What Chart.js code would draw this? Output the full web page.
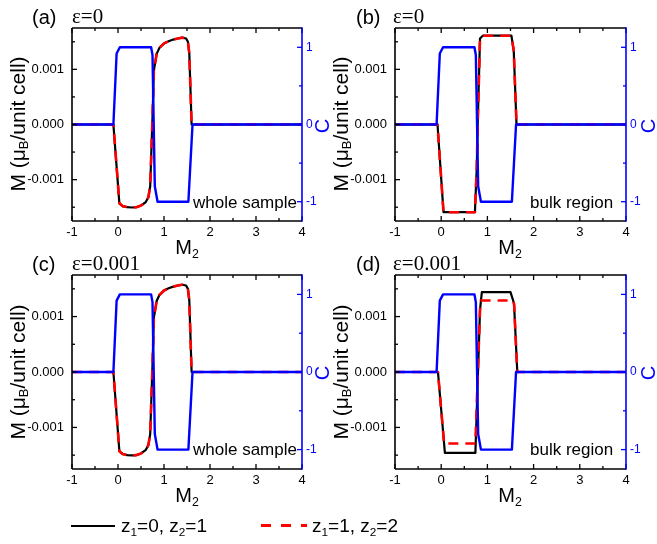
<!DOCTYPE html>
<html>
<head>
<meta charset="utf-8">
<script src="https://cdn.jsdelivr.net/npm/chart.js@4.4.1/dist/chart.umd.min.js"></script>
<style>
  body { margin: 0; background: #fff; }
  #fig { position: relative; width: 657px; height: 544px; overflow: hidden; background: #fff;
         font-family: "Liberation Sans", Arial, sans-serif; color: #000; }
  #fig canvas { position: absolute; }
  .lbl { position: absolute; white-space: nowrap; line-height: 1; }
  .tag { font-size: 20px; }
  .eps { font-family: "Liberation Serif", "Times New Roman", serif; font-size: 21px; }
  .ytitle { font-size: 21px; transform: translate(-50%, -50%) rotate(-90deg); }
  .ctitle { font-size: 20px; color: #0000ff; transform: translate(-50%, -50%) rotate(-90deg); }
  .xtitle { font-size: 20px; transform: translateX(-50%); }
  .note { font-size: 17px; }
  .leg { font-size: 19px; }
  sub { font-size: 0.62em; vertical-align: -0.3em; line-height: 0; }
  .legline { position: absolute; height: 2px; background: #000; }
  .legdash { position: absolute; height: 3px;
             background: repeating-linear-gradient(to right, #ff0000 0 10px, transparent 10px 20px); }
</style>
</head>
<body>
<div id="fig">
  <canvas id="pa"></canvas>
  <canvas id="pb"></canvas>
  <canvas id="pc"></canvas>
  <canvas id="pd"></canvas>

  <div class="lbl tag" style="left:32px;top:7px">(a)</div>
  <div class="lbl eps" style="left:72px;top:6px">ε=0</div>
  <div class="lbl tag" style="left:356px;top:7px">(b)</div>
  <div class="lbl eps" style="left:393px;top:6px">ε=0</div>
  <div class="lbl tag" style="left:32px;top:254px">(c)</div>
  <div class="lbl eps" style="left:72px;top:253px">ε=0.001</div>
  <div class="lbl tag" style="left:356px;top:254px">(d)</div>
  <div class="lbl eps" style="left:393px;top:253px">ε=0.001</div>

  <div class="lbl ytitle" style="left:17px;top:124px">M (μ<sub>B</sub>/unit cell)</div>
  <div class="lbl ytitle" style="left:340px;top:124px">M (μ<sub>B</sub>/unit cell)</div>
  <div class="lbl ytitle" style="left:17px;top:372px">M (μ<sub>B</sub>/unit cell)</div>
  <div class="lbl ytitle" style="left:340px;top:372px">M (μ<sub>B</sub>/unit cell)</div>

  <div class="lbl ctitle" style="left:322px;top:126px">C</div>
  <div class="lbl ctitle" style="left:648px;top:126px">C</div>
  <div class="lbl ctitle" style="left:322px;top:373px">C</div>
  <div class="lbl ctitle" style="left:648px;top:373px">C</div>

  <div class="lbl xtitle" style="left:187px;top:237px">M<sub>2</sub></div>
  <div class="lbl xtitle" style="left:510px;top:237px">M<sub>2</sub></div>
  <div class="lbl xtitle" style="left:187px;top:485px">M<sub>2</sub></div>
  <div class="lbl xtitle" style="left:510px;top:485px">M<sub>2</sub></div>

  <div class="lbl note" style="left:193px;top:194px">whole sample</div>
  <div class="lbl note" style="left:530px;top:194px">bulk region</div>
  <div class="lbl note" style="left:193px;top:441px">whole sample</div>
  <div class="lbl note" style="left:530px;top:441px">bulk region</div>

  <div class="legline" style="left:71px;top:525px;width:44px"></div>
  <div class="lbl leg" style="left:121px;top:516px">z<sub>1</sub>=0, z<sub>2</sub>=1</div>
  <div class="legdash" style="left:261px;top:524px;width:46px"></div>
  <div class="lbl leg" style="left:312px;top:516px">z<sub>1</sub>=1, z<sub>2</sub>=2</div>
</div>

<script>
// ---- axis ticks ----
const m2Ticks = [-1, 0, 1, 2, 3, 4];
const m2Minor = [-0.5, 0.5, 1.5, 2.5, 3.5];
const mTicks = [-0.001, 0, 0.001];
const mMinor = [-0.0015, -0.0005, 0.0005, 0.0015];
const cTicks = [-1, 0, 1];
const cMinor = [-0.5, 0.5];
const m2Range = [-1, 4];
const mRange = [-0.00175, 0.00175];
const cRange = [-1.25, 1.25];

// ---- Chern number C vs M2 (same for all panels) ----
const chernX = [-1, -0.1, -0.03, 0.04, 0.72, 0.75, 0.8, 0.86, 1.53, 1.62, 4];
const chernY = [0, 0, 0.92, 1, 1, 0.9, -0.8, -1, -1, 0, 0];

// ---- magnetization, whole sample (eps = 0 and eps = 0.001 look alike) ----
const wholeX = [-1, -0.1, 0.03, 0.1, 0.2, 0.3, 0.4, 0.5, 0.6, 0.66, 0.7, 0.745, 0.78, 0.84,
                0.9, 1.0, 1.1, 1.2, 1.3, 1.4, 1.48, 1.52, 1.55, 1.6, 4];
const wholeY = [0, 0, -0.00143, -0.00148, -0.0015, -0.001505, -0.0015, -0.00147, -0.00141,
                -0.00132, -0.00112, 0, 0.00098, 0.00128, 0.00139, 0.00147, 0.00151, 0.00154,
                0.00156, 0.001575, 0.00156, 0.0015, 0.00129, 0, 0];

// ---- magnetization, bulk region, eps = 0 ----
const bulkX = [-1, -0.08, 0.05, 0.73, 0.77, 0.79, 0.84, 0.9, 1.52, 1.57, 1.63, 4];
const bulkY = [0, 0, -0.00159, -0.00159, -0.00077, 0, 0.00156, 0.00161, 0.00161, 0.00134, 0, 0];

// ---- magnetization, bulk region, eps = 0.001 ----
const bulkEpsX0 = [-1, -0.07, 0.08, 0.74, 0.84, 0.88, 1.5, 1.576, 1.647, 4];
const bulkEpsY0 = [0, 0, -0.00146, -0.00146, 0.00112, 0.00144, 0.00144, 0.00124, 0, 0];
const bulkEpsX1 = [-1, -0.07, 0.063, 0.74, 0.84, 0.855, 1.56, 1.58, 1.645, 4];
const bulkEpsY1 = [0, 0, -0.00129, -0.00129, 0.00112, 0.00129, 0.00129, 0.0012, 0, 0];

const BLUE = '#0000ff';
const RED = '#ff0000';

function pts(xs, ys) {
    return xs.map((x, i) => ({ x: x, y: ys[i] }));
}

// frame and inward tick marks, drawn on top of the curves
const framePlugin = {
    id: 'frame',
    afterDraw(chart) {
        const { ctx, chartArea: a, scales } = chart;
        ctx.save();
        ctx.lineWidth = 1.3;
        ctx.strokeStyle = '#000';
        const seg = (x1, y1, x2, y2) => { ctx.beginPath(); ctx.moveTo(x1, y1); ctx.lineTo(x2, y2); ctx.stroke(); };

        m2Ticks.concat(m2Minor).forEach(v => {
            const len = m2Ticks.includes(v) ? 5 : 3;
            const px = scales.x.getPixelForValue(v);
            seg(px, a.bottom, px, a.bottom - len);
            seg(px, a.top, px, a.top + len);
        });
        mTicks.concat(mMinor).forEach(v => {
            const len = mTicks.includes(v) ? 5 : 3;
            const py = scales.y.getPixelForValue(v);
            seg(a.left, py, a.left + len, py);
        });

        ctx.lineWidth = 1.6;
        seg(a.left, a.top, a.left, a.bottom);
        seg(a.left, a.top, a.right, a.top);
        seg(a.left, a.bottom, a.right, a.bottom);

        ctx.strokeStyle = BLUE;
        ctx.lineWidth = 1.3;
        cTicks.concat(cMinor).forEach(v => {
            const len = cTicks.includes(v) ? 5 : 3;
            const py = scales.c.getPixelForValue(v);
            seg(a.right, py, a.right - len, py);
        });
        ctx.lineWidth = 1.6;
        seg(a.right, a.top - 0.8, a.right, a.bottom + 0.8);
        ctx.restore();
    }
};

function fixScale(size) {
    return s => {
        if (s.isHorizontal()) s.height = size; else s.width = size;
        s.paddingTop = 0; s.paddingBottom = 0; s.paddingLeft = 0; s.paddingRight = 0;
    };
}

function makePanel(id, left, top, right, bottom, mBlack, mRed) {
    const padL = 52, padR = 28, padT = 8, padB = 20;
    const canvas = document.getElementById(id);
    canvas.width = (right - left) + padL + padR;
    canvas.height = (bottom - top) + padT + padB;
    canvas.style.left = (left - padL) + 'px';
    canvas.style.top = (top - padT) + 'px';

    new Chart(canvas, {
        type: 'line',
        data: {
            datasets: [
                { data: pts(chernX, chernY), yAxisID: 'c', borderColor: BLUE, borderWidth: 2.4, order: 0 },
                { data: mRed, yAxisID: 'y', borderColor: RED, borderWidth: 2.6, borderDash: [10, 7], order: 1 },
                { data: mBlack, yAxisID: 'y', borderColor: '#000', borderWidth: 2.2, order: 2 }
            ]
        },
        options: {
            responsive: false,
            animation: false,
            devicePixelRatio: 1,
            events: [],
            parsing: false,
            elements: { point: { radius: 0 }, line: { tension: 0, borderJoinStyle: 'round' } },
            layout: { padding: { top: padT, left: 0, right: 0, bottom: 0 } },
            plugins: { legend: { display: false }, tooltip: { enabled: false } },
            scales: {
                x: {
                    type: 'linear', min: m2Range[0], max: m2Range[1],
                    grid: { display: false, drawTicks: false }, border: { display: false },
                    ticks: { padding: 4, color: '#000', autoSkip: false, maxRotation: 0,
                             font: { family: 'Liberation Sans', size: 13 },
                             callback: v => String(v) },
                    afterBuildTicks: s => { s.ticks = m2Ticks.map(v => ({ value: v })); },
                    afterFit: fixScale(padB)
                },
                y: {
                    type: 'linear', position: 'left', min: mRange[0], max: mRange[1],
                    grid: { display: false, drawTicks: false }, border: { display: false },
                    ticks: { padding: 8, color: '#000', font: { family: 'Liberation Sans', size: 13 },
                             callback: v => v.toFixed(3) },
                    afterBuildTicks: s => { s.ticks = mTicks.map(v => ({ value: v })); },
                    afterFit: fixScale(padL)
                },
                c: {
                    type: 'linear', position: 'right', min: cRange[0], max: cRange[1],
                    grid: { display: false, drawTicks: false }, border: { display: false },
                    ticks: { padding: 4, color: BLUE, font: { family: 'Liberation Sans', size: 12 },
                             callback: v => String(v) },
                    afterBuildTicks: s => { s.ticks = cTicks.map(v => ({ value: v })); },
                    afterFit: fixScale(padR)
                }
            }
        },
        plugins: [framePlugin]
    });
}

makePanel('pa', 72, 28, 302, 221, pts(wholeX, wholeY), pts(wholeX, wholeY));
makePanel('pb', 395, 28, 626, 221, pts(bulkX, bulkY), pts(bulkX, bulkY));
makePanel('pc', 72, 275, 302, 469, pts(wholeX, wholeY), pts(wholeX, wholeY));
makePanel('pd', 395, 275, 626, 469, pts(bulkEpsX0, bulkEpsY0), pts(bulkEpsX1, bulkEpsY1));
</script>
</body>
</html>
